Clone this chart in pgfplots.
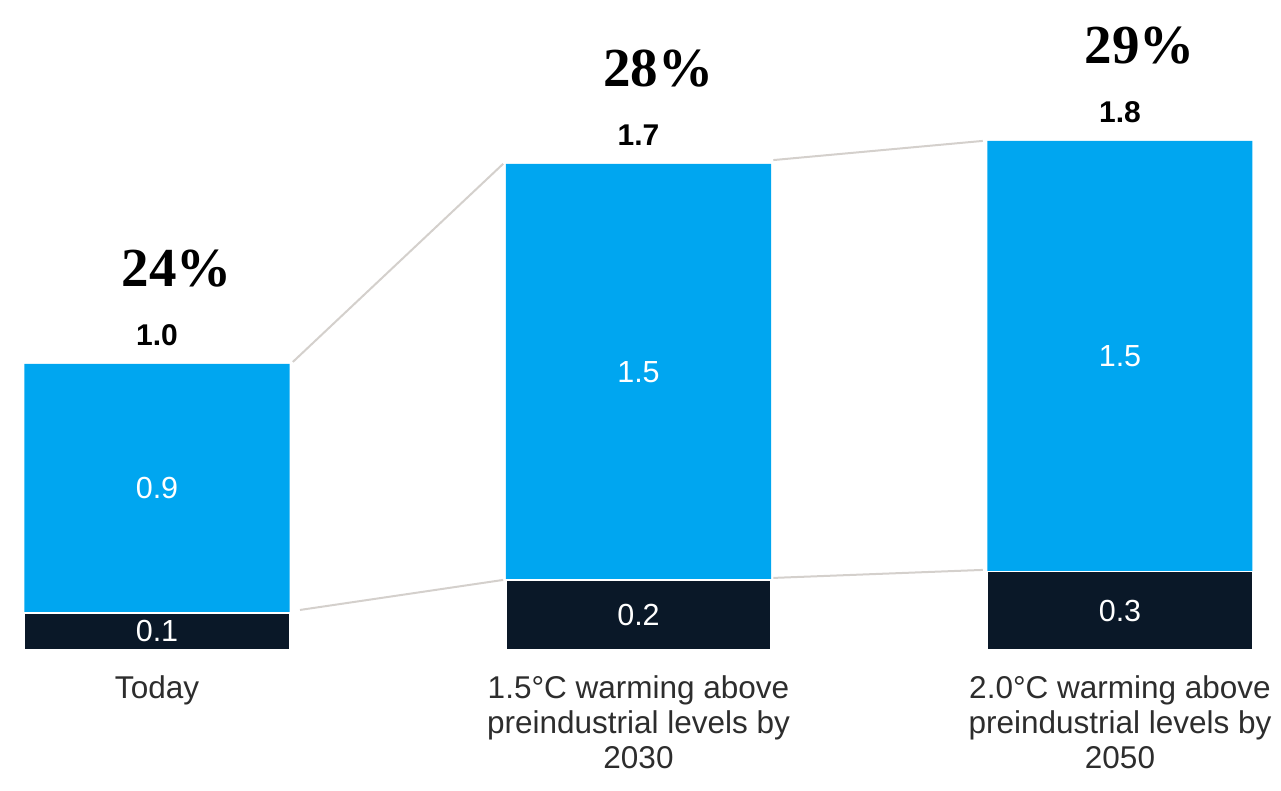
\documentclass[border=0pt]{standalone}
\usepackage{fontspec}
\setmainfont{Liberation Sans}
\newfontfamily\pctfont{Liberation Serif}
\usepackage{pgfplots}
\pgfplotsset{compat=1.18}

\definecolor{barblue}{RGB}{0,166,240}
\definecolor{bardark}{RGB}{10,24,40}
\definecolor{linkgray}{RGB}{212,208,204}
\definecolor{labgray}{RGB}{45,45,45}

\begin{document}
\begin{tikzpicture}
\useasboundingbox (0,0) rectangle (1281pt,791pt);
\begin{axis}[
  at={(12.55pt,141pt)}, anchor=south west,
  scale only axis, width=1251.9pt, height=629.2pt,
  xmin=-0.3, xmax=2.3, ymin=0, ymax=2.2,
  clip=false,
  axis line style={draw=none},
  major tick length=0pt,
  ytick=\empty,
  xtick={0,1,2},
  xticklabels={Today,{1.5°C warming above\\preindustrial levels by\\2030},{2.0°C warming above\\preindustrial levels by\\2050}},
  xticklabel style={align=center, text=labgray, font=\fontsize{31.5}{35}\selectfont, yshift=-22pt},
]
% connector lines between bars
\addplot[linkgray, line width=2pt] coordinates {(0.282,1.007) (0.719,1.70)};
\addplot[linkgray, line width=2pt] coordinates {(0.297,0.14) (0.719,0.245)};
\addplot[linkgray, line width=2pt] coordinates {(1.280,1.713) (1.715,1.78)};
\addplot[linkgray, line width=2pt] coordinates {(1.280,0.252) (1.715,0.28)};

% totals (blue), lower part (dark) drawn over them
\addplot[ybar, bar width=265pt, bar shift=0pt, fill=barblue, draw=none]
  coordinates {(0,1.0) (1,1.70) (2,1.78)};
\addplot[ybar, bar width=265pt, bar shift=0pt, fill=bardark, draw=white, line width=1.5pt]
  coordinates {(0,0.13) (1,0.245) (2,0.275)};

% segment labels
\addplot[draw=none, mark=none, nodes near coords, point meta=explicit symbolic,
  nodes near coords style={anchor=center, text=white, font=\fontsize{30.5}{36}\selectfont}]
  coordinates {(0,0.565)[0.9] (1,0.9725)[1.5] (2,1.0275)[1.5]
               (0,0.065)[0.1] (1,0.1225)[0.2] (2,0.1375)[0.3]};

% totals
\addplot[draw=none, mark=none, nodes near coords, point meta=explicit symbolic,
  nodes near coords style={anchor=center, yshift=28.5pt, text=black, font=\bfseries\fontsize{30}{36}\selectfont}]
  coordinates {(0,1.0)[1.0] (1,1.70)[1.7] (2,1.78)[1.8]};

% shares
\addplot[draw=none, mark=none, nodes near coords, point meta=explicit symbolic,
  nodes near coords style={anchor=center, yshift=95pt, xshift=20pt, text=black, font=\pctfont\bfseries\fontsize{55}{60}\selectfont}]
  coordinates {(0,1.0)[24\%] (1,1.70)[28\%] (2,1.78)[29\%]};
\end{axis}
\end{tikzpicture}
\end{document}
